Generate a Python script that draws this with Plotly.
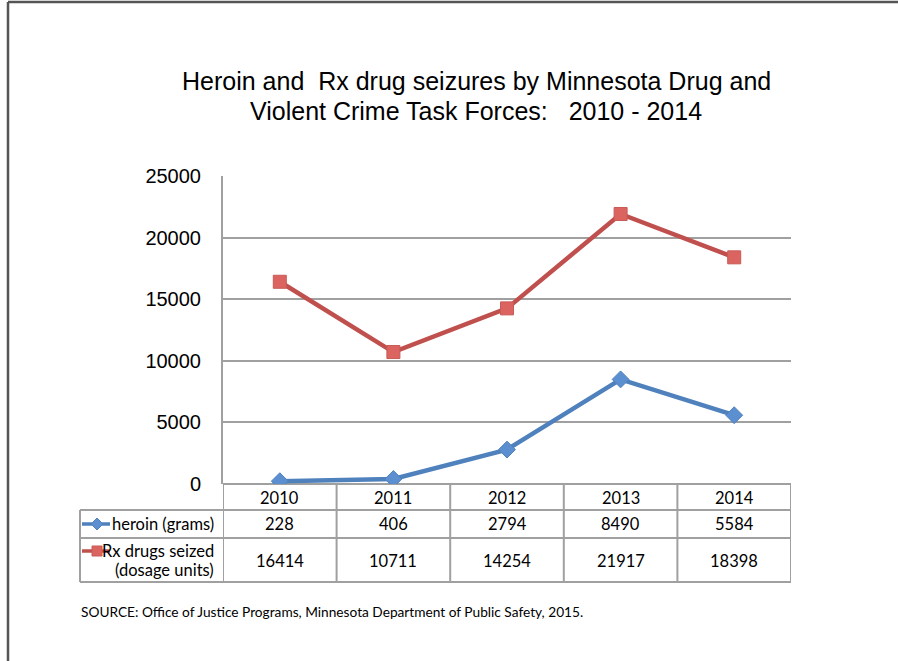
import plotly.graph_objects as go

# Seizure data by year
years = ["2010", "2011", "2012", "2013", "2014"]
heroin_grams = [228, 406, 2794, 8490, 5584]
rx_dosage_units = [16414, 10711, 14254, 21917, 18398]
y_ticks = [0, 5000, 10000, 15000, 20000, 25000]

title_lines = ["Heroin and  Rx drug seizures by Minnesota Drug and",
               "Violent Crime Task Forces:   2010 - 2014"]
source_note = "SOURCE: Office of Justice Programs, Minnesota Department of Public Safety, 2015."

W, H = 898, 661
BLUE = "#4F81BD"
BLUE_FILL = "#5B8FD0"
RED = "#C0504D"
RED_FILL = "#DB6461"
GRID = "#A0A0A0"
TABLE_FONT = "Lato, Carlito, sans-serif"


def px(x):
    return x / W


def py(y):
    return 1 - y / H


# plot-area edges (pixels)
PL, PR, PT, PB = 223, 791, 176, 484
# table row boundaries (pixels)
ROW_HDR_B, ROW_H_B, ROW_R_B = 510, 538, 582
TABLE_L = 80

fig = go.Figure()

fig.add_trace(go.Scatter(
    x=list(range(len(years))), y=rx_dosage_units, mode="lines+markers",
    name="Rx drugs seized (dosage units)",
    line=dict(color=RED, width=4.5),
    marker=dict(symbol="square", size=13, color=RED_FILL, line=dict(color="#C85A57", width=1)),
))
fig.add_trace(go.Scatter(
    x=list(range(len(years))), y=heroin_grams, mode="lines+markers", name="heroin (grams)",
    line=dict(color=BLUE, width=4.5),
    marker=dict(symbol="diamond", size=13, color=BLUE_FILL, line=dict(color=BLUE, width=1)),
))

shapes = []
# slide frame
shapes.append(dict(type="line", xref="paper", yref="paper", x0=px(8), x1=1, y0=py(2), y1=py(2),
                   line=dict(color="#555555", width=2.5)))
shapes.append(dict(type="line", xref="paper", yref="paper", x0=px(8), x1=px(8), y0=py(2), y1=0,
                   line=dict(color="#555555", width=2.5)))

# table horizontal rules
for yy in (ROW_HDR_B, ROW_H_B, ROW_R_B):
    shapes.append(dict(type="line", xref="paper", yref="paper", x0=px(TABLE_L), x1=px(PR),
                       y0=py(yy), y1=py(yy), line=dict(color=GRID, width=2)))
# table vertical rules at category boundaries
for i in range(len(years) + 1):
    shapes.append(dict(type="line", xref="x", yref="paper", x0=i - 0.5, x1=i - 0.5,
                       y0=py(PB), y1=py(ROW_R_B), line=dict(color=GRID, width=2)))
shapes.append(dict(type="line", xref="paper", yref="paper", x0=px(TABLE_L), x1=px(TABLE_L),
                   y0=py(ROW_HDR_B), y1=py(ROW_R_B), line=dict(color=GRID, width=2)))

# legend keys in the table's first column
def key_line(yc, color):
    return dict(type="line", xref="paper", yref="paper", x0=px(82), x1=px(110),
                y0=py(yc), y1=py(yc), line=dict(color=color, width=3.5))


shapes.append(key_line(524, BLUE))
shapes.append(dict(type="path", xref="paper", yref="paper",
                   path=f"M {px(97)},{py(518)} L {px(103)},{py(524)} L {px(97)},{py(530)} "
                        f"L {px(91)},{py(524)} Z",
                   fillcolor=BLUE_FILL, line=dict(color=BLUE, width=1)))
shapes.append(key_line(551, RED))
shapes.append(dict(type="rect", xref="paper", yref="paper",
                   x0=px(92), x1=px(102), y0=py(546), y1=py(556),
                   fillcolor=RED_FILL, line=dict(color="#C85A57", width=1)))

annotations = []
for i, line in enumerate(title_lines):
    annotations.append(dict(text=line, xref="paper", yref="paper", x=px(476), y=py(81 + 30 * i),
                            xanchor="center", yanchor="middle", showarrow=False,
                            font=dict(family="Liberation Sans, Arial", size=25, color="#000000")))

cell_font = dict(family=TABLE_FONT, size=16.5, color="#000000")
for i, (yr, h, r) in enumerate(zip(years, heroin_grams, rx_dosage_units)):
    for txt, yc in ((yr, 498), (str(h), 524), (str(r), 561)):
        annotations.append(dict(text=txt, xref="x", yref="paper", x=i, y=py(yc), showarrow=False,
                                xanchor="center", yanchor="middle", font=cell_font))

for txt, yc in (("heroin (grams)", 524), ("Rx drugs seized", 551), ("(dosage units)", 570)):
    annotations.append(dict(text=txt, xref="paper", yref="paper", x=px(216), y=py(yc),
                            xanchor="right", yanchor="middle", showarrow=False, font=cell_font))

annotations.append(dict(text=source_note, xref="paper", yref="paper", x=px(79), y=py(611),
                        xanchor="left", yanchor="middle", showarrow=False,
                        font=dict(family=TABLE_FONT, size=13.7, color="#000000")))

fig.update_layout(
    width=W, height=H,
    autosize=False,
    margin=dict(l=0, r=0, t=0, b=0, pad=0, autoexpand=False),
    paper_bgcolor="white", plot_bgcolor="white",
    showlegend=False,
    xaxis=dict(domain=[px(PL), px(PR)], range=[-0.5, 4.5],
               showticklabels=False, showgrid=False, zeroline=False,
               showline=False, ticks="", automargin=False, fixedrange=True),
    yaxis=dict(domain=[py(PB), py(PT)], range=[0, 25000], tickvals=y_ticks,
               ticktext=[str(v) for v in y_ticks], showgrid=True, gridcolor=GRID, gridwidth=1.5,
               zeroline=True, zerolinecolor=GRID, zerolinewidth=2,
               showline=True, linecolor=GRID, linewidth=2, ticks="", ticklabelstandoff=16,
               tickfont=dict(family="Liberation Sans, Arial", size=20, color="#000000"),
               automargin=False, fixedrange=True),
    shapes=shapes,
    annotations=annotations,
)

fig.write_html("out.html")
